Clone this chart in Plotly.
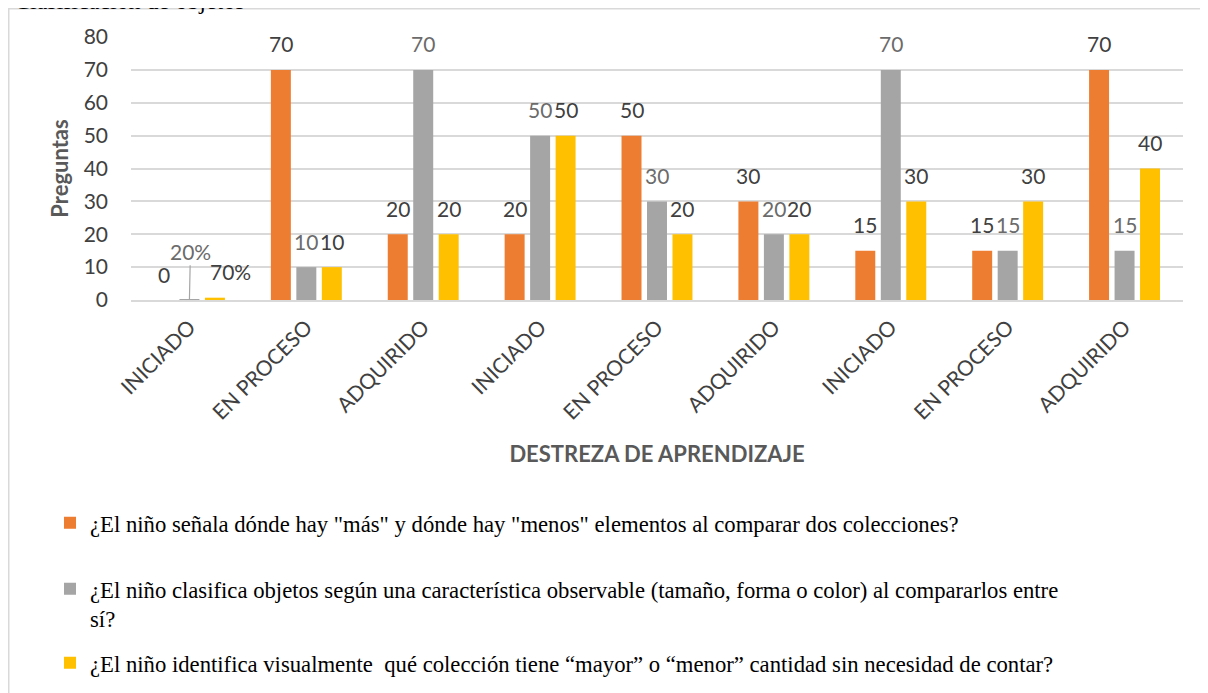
import plotly.graph_objects as go

# ---------------- data ----------------
categories = ["INICIADO", "EN PROCESO", "ADQUIRIDO",
              "INICIADO", "EN PROCESO", "ADQUIRIDO",
              "INICIADO", "EN PROCESO", "ADQUIRIDO"]
serie_mas_menos = [0, 70, 20, 20, 50, 30, 15, 15, 70]
serie_clasifica = [0.2, 10, 70, 50, 30, 20, 70, 15, 15]
serie_visual = [0.7, 10, 20, 50, 20, 20, 30, 30, 40]
labels_mas_menos = ["0", "70", "20", "20", "50", "30", "15", "15", "70"]
labels_clasifica = ["20%", "10", "70", "50", "30", "20", "70", "15", "15"]
labels_visual = ["70%", "10", "20", "50", "20", "20", "30", "30", "40"]
series_names = [
    "¿El niño señala dónde hay \"más\" y dónde hay \"menos\" elementos al comparar dos colecciones?",
    "¿El niño clasifica objetos según una característica observable (tamaño, forma o color) al compararlos entre<br>sí?",
    "¿El niño identifica visualmente  qué colección tiene “mayor” o “menor” cantidad sin necesidad de contar?",
]
y_ticks = [0, 10, 20, 30, 40, 50, 60, 70, 80]

colors = ["#ED7D31", "#A5A5A5", "#FFC000"]
label_colors = ["#404040", "#6b6b6b", "#404040"]

# page has an 8px body margin: work in reference-page pixels, convert to figure pixels
OFF = 8
W, H = 1200, 685
PLOT_L, PLOT_R, PLOT_T, PLOT_B = 131, 1183, 37, 300   # reference page pixels
L = PLOT_L - OFF
T = PLOT_T - OFF
R = W - (PLOT_R - OFF)
B = H - (PLOT_B - OFF)
pw, ph = W - L - R, H - T - B

def px_x(p):
    return (p - OFF - L) / pw

def px_y(p):
    return (H - B - (p - OFF)) / ph

BARGAP = 0.346
BARGROUPGAP = 0.216
slot = (1 - BARGAP) / 3

xs = list(range(len(categories)))
series = [serie_mas_menos, serie_clasifica, serie_visual]
labels = [labels_mas_menos, labels_clasifica, labels_visual]
legend_ids = ["legend", "legend2", "legend3"]

fig = go.Figure()
for i in range(3):
    fig.add_trace(go.Bar(
        x=xs, y=series[i], name=series_names[i],
        marker=dict(color=colors[i], line=dict(width=0)),
        legend=legend_ids[i], showlegend=True, hoverinfo="skip",
    ))

FONT = "Lato, Calibri, Carlito, sans-serif"
annotations = []
for i in range(3):
    for j, (v, t) in enumerate(zip(series[i], labels[i])):
        xpos = j + (i - 1) * slot
        if j == 0 and i == 1:
            annotations.append(dict(
                x=xpos, y=v, xref="x", yref="y", text=t, showarrow=True,
                arrowhead=0, arrowwidth=1.2, arrowcolor="#A5A5A5", ax=1, ay=-48,
                font=dict(family=FONT, size=21, color=label_colors[i]),
            ))
            continue
        xshift = 16 if (j == 0 and i == 2) else 0
        annotations.append(dict(
            x=xpos, y=v, xref="x", yref="y", text=t, showarrow=False,
            yshift=26, xshift=xshift,
            font=dict(family=FONT, size=21, color=label_colors[i]),
        ))

# heading, cut off at the top edge in the reference
annotations.append(dict(
    xref="paper", yref="paper", x=px_x(12), y=px_y(16), xanchor="left", yanchor="bottom",
    text="Clasificación de objetos", showarrow=False,
    font=dict(family="Liberation Serif, Times New Roman, serif", size=24, color="#000000"),
))

legend_font = dict(family="Liberation Serif, Times New Roman, serif", size=22.7, color="#000000")
leg_x = px_x(50)

fig.update_layout(
    width=W, height=H,
    margin=dict(l=L, r=R, t=T, b=B, autoexpand=False),
    paper_bgcolor="white", plot_bgcolor="white",
    barmode="group", bargap=BARGAP, bargroupgap=BARGROUPGAP,
    annotations=annotations,
    showlegend=True,
    legend=dict(x=leg_x, y=px_y(523), xanchor="left", yanchor="middle",
                font=legend_font, bgcolor="rgba(0,0,0,0)"),
    legend2=dict(x=leg_x, y=px_y(604), xanchor="left", yanchor="middle", valign="top",
                 font=legend_font, bgcolor="rgba(0,0,0,0)"),
    legend3=dict(x=leg_x, y=px_y(663), xanchor="left", yanchor="middle",
                 font=legend_font, bgcolor="rgba(0,0,0,0)"),
    shapes=[dict(type="rect", xref="paper", yref="paper",
                 x0=px_x(8.75), x1=px_x(1240), y0=px_y(730), y1=px_y(8.75),
                 line=dict(color="#D9D9D9", width=1.5), fillcolor="rgba(0,0,0,0)", layer="below")],
)

fig.update_xaxes(
    tickmode="array", tickvals=xs, ticktext=categories, tickangle=-45,
    range=[-0.5, len(categories) - 0.5],
    tickfont=dict(family=FONT, size=21, color="#404040"),
    showgrid=False, showline=True, linecolor="#D9D9D9", linewidth=1.5,
    ticks="", ticklabelstandoff=5, automargin=False,
    title=dict(text="<b>DESTREZA DE APRENDIZAJE</b>", standoff=24,
               font=dict(family=FONT, size=22, color="#595959")),
)
fig.update_yaxes(
    range=[0, 80], tickmode="array", tickvals=y_ticks,
    tickfont=dict(family=FONT, size=21, color="#404040"),
    showgrid=True, gridcolor="#D9D9D9", gridwidth=1.5, zeroline=False,
    showline=False, ticks="", ticklabelstandoff=22, automargin=False,
    title=dict(text="<b>Preguntas</b>", standoff=8,
               font=dict(family=FONT, size=22, color="#595959")),
)

fig.write_html("out.html")
